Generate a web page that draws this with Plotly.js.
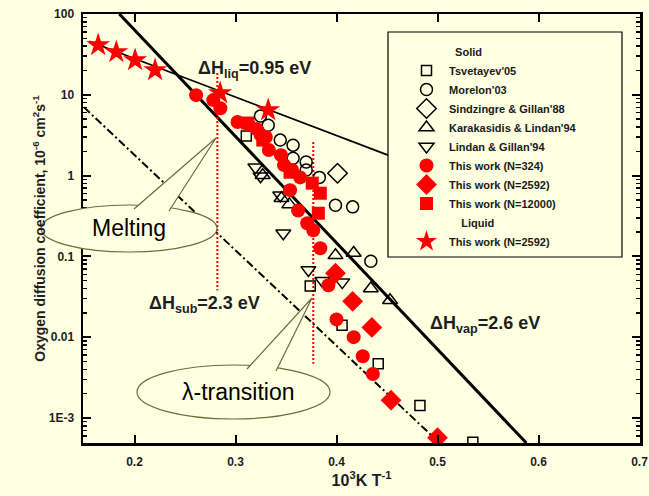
<!DOCTYPE html>
<html><head><meta charset="utf-8">
<script src="https://cdn.plot.ly/plotly-3.0.1.min.js"></script>
<style>html,body{margin:0;padding:0;background:#FFFFE2;} #chart{width:649px;height:496px;}</style>
</head><body><div id="chart"></div>
<script>
// ---- data ----
const tsvX = [0.3107, 0.374, 0.4055, 0.4413, 0.4826, 0.535];
const tsvY = [3.08, 0.043, 0.014, 0.0047, 0.00143, 0.0005];
const morX = [0.3247, 0.3324, 0.3443, 0.357, 0.357, 0.370, 0.370, 0.383, 0.399, 0.416, 0.434];
const morY = [5.45, 4.2, 2.75, 2.38, 1.64, 1.47, 1.17, 0.95, 0.43, 0.41, 0.087];
const sinX = [0.401];
const sinY = [1.07];
const karX = [0.3269, 0.3455, 0.3533, 0.399, 0.417, 0.434, 0.453];
const karY = [1.01, 0.525, 0.44, 0.103, 0.11, 0.040, 0.0286];
const linX = [0.3197, 0.3248, 0.3443, 0.3473, 0.3722, 0.386, 0.4057];
const linY = [1.27, 0.98, 0.57, 0.193, 0.068, 0.050, 0.048];
const n324X = [0.261, 0.278, 0.285, 0.302, 0.313, 0.321, 0.325, 0.330, 0.333, 0.345, 0.348, 0.356, 0.364, 0.354, 0.362, 0.371, 0.377, 0.384, 0.392, 0.400, 0.417, 0.426, 0.436];
const n324Y = [9.9, 8.6, 6.8, 4.6, 4.3, 3.76, 3.17, 3.0, 2.07, 1.79, 1.35, 1.17, 0.95, 0.66, 0.37, 0.257, 0.21, 0.126, 0.044, 0.0166, 0.0100, 0.0058, 0.0035];
const n2592X = [0.399, 0.416, 0.435, 0.454, 0.500];
const n2592Y = [0.062, 0.0278, 0.0132, 0.00166, 0.00057];
const n12000X = [0.312, 0.327, 0.354, 0.376, 0.384, 0.382];
const n12000Y = [4.47, 2.75, 1.1, 0.805, 0.605, 0.342];
const liqX = [0.164, 0.182, 0.2006, 0.2204, 0.2848, 0.3324];
const liqY = [41.3, 33.8, 26.9, 20.2, 10.5, 6.46];

// fitted Arrhenius lines (end points)
const vapX = [0.185, 0.588];      const vapY = [100, 0.00049];
const liqLineX = [0.155, 0.451];  const liqLineY = [46, 1.79];
const subX = [0.150, 0.502];      const subY = [7.0, 0.00049];
const meltX = [0.282, 0.282];     const meltY = [18.6, 0.038];
const lamX = [0.377, 0.377];      const lamY = [2.6, 0.0047];

// axis ticks
const xTickVals = [0.2, 0.3, 0.4, 0.5, 0.6, 0.7];
const xTickText = ['0.2', '0.3', '0.4', '0.5', '0.6', '0.7'];
const yTickVals = [0.001, 0.01, 0.1, 1, 10, 100];
const yTickText = ['1E-3', '0.01', '0.1', '1', '10', '100'];
const yMinorVals = [];
for (let e = -4; e <= 1; e++) for (let m = 2; m <= 9; m++) yMinorVals.push(m * Math.pow(10, e));

const BG = '#FFFFE2';
const FONT = 'Arial, "Liberation Sans", sans-serif';
const OLIVE = '#6b6b3c';

function line(x, y, w, dash, color) {
  return {x: x, y: y, type: 'scatter', mode: 'lines', showlegend: false, hoverinfo: 'skip',
          line: {color: color || 'black', width: w, dash: dash || 'solid'}};
}
function open(x, y, name, sym, size) {
  return {x: x, y: y, name: name, type: 'scatter', mode: 'markers',
          marker: {symbol: sym, size: size, color: 'black', line: {color: 'black', width: 1.5}}};
}
function filled(x, y, name, sym, size) {
  return {x: x, y: y, name: name, type: 'scatter', mode: 'markers',
          marker: {symbol: sym, size: size, color: '#FF0000', line: {width: 0}}};
}
function header(name) {
  return {x: [null], y: [null], name: name, type: 'scatter', mode: 'markers',
          marker: {size: 1, color: 'rgba(0,0,0,0)'}};
}

const traces = [
  line(vapX, vapY, 3),
  line(liqLineX, liqLineY, 1.8),
  line(subX, subY, 2, '8px,3px,2px,3px'),
  line(meltX, meltY, 2, '2px,2px', '#FF0000'),
  line(lamX, lamY, 2, '2px,2px', '#FF0000'),
  header('\u00a0\u00a0Solid'),
  open(tsvX, tsvY, "Tsvetayev'05", 'square-open', 10),
  open(morX, morY, "Morelon'03", 'circle-open', 12),
  open(sinX, sinY, "Sindzingre & Gillan'88", 'diamond-open', 15),
  open(karX, karY, "Karakasidis & Lindan'94", 'triangle-up-open', 13),
  open(linX, linY, "Lindan & Gillan'94", 'triangle-down-open', 13),
  filled(n324X, n324Y, 'This work (N=324)', 'circle', 14),
  filled(n2592X, n2592Y, 'This work (N=2592)', 'diamond', 16),
  filled(n12000X, n12000Y, 'This work (N=12000)', 'square', 13),
  header('\u00a0\u00a0\u00a0\u00a0Liquid'),
  filled(liqX, liqY, 'This work (N=2592)', 'star', 18)
];

// plot area in pixels: x 83..640, y 14..443
const L = 83, R = 640, T = 14, B = 443;
const px = v => (v - L) / (R - L);
const py = v => (B - v) / (B - T);

const shapes = [
  {type: 'rect', xref: 'paper', yref: 'paper', x0: px(388), x1: px(622), y0: py(257), y1: py(32),
   fillcolor: BG, line: {color: 'black', width: 1.2}, layer: 'above'},
  {type: 'circle', xref: 'paper', yref: 'paper', x0: px(41), x1: px(217), y0: py(252), y1: py(205),
   fillcolor: BG, line: {color: OLIVE, width: 1.2}, layer: 'above'},
  {type: 'path', xref: 'paper', yref: 'paper',
   path: 'M ' + px(134) + ',' + py(209) + ' L ' + px(216) + ',' + py(138) + ' L ' + px(169) + ',' + py(211),
   fillcolor: BG, line: {color: OLIVE, width: 1.2}, layer: 'above'},
  {type: 'circle', xref: 'paper', yref: 'paper', x0: px(137), x1: px(330), y0: py(419), y1: py(365),
   fillcolor: BG, line: {color: OLIVE, width: 1.2}, layer: 'above'},
  {type: 'path', xref: 'paper', yref: 'paper',
   path: 'M ' + px(247) + ',' + py(369) + ' L ' + px(312) + ',' + py(298) + ' L ' + px(276) + ',' + py(371),
   fillcolor: BG, line: {color: OLIVE, width: 1.2}, layer: 'above'}
];

const dhFont = {family: FONT, size: 18, color: '#1e1e1e', weight: 'bold'};
const annotations = [
  {xref: 'paper', yref: 'paper', x: px(128.5), y: py(228), text: 'Melting', showarrow: false,
   xanchor: 'center', yanchor: 'middle', font: {family: FONT, size: 23, color: 'black'}},
  {xref: 'paper', yref: 'paper', x: px(237.5), y: py(392), text: '\u03bb-transition', showarrow: false,
   xanchor: 'center', yanchor: 'middle', font: {family: FONT, size: 23, color: 'black'}},
  {xref: 'paper', yref: 'paper', x: px(196), y: py(56), text: '\u0394H<sub>liq</sub>=0.95 eV', showarrow: false,
   xanchor: 'left', yanchor: 'top', font: dhFont},
  {xref: 'paper', yref: 'paper', x: px(147), y: py(291), text: '\u0394H<sub>sub</sub>=2.3 eV', showarrow: false,
   xanchor: 'left', yanchor: 'top', font: dhFont},
  {xref: 'paper', yref: 'paper', x: px(428), y: py(311), text: '\u0394H<sub>vap</sub>=2.6 eV', showarrow: false,
   xanchor: 'left', yanchor: 'top', font: dhFont}
];

const tickFont = {family: FONT, size: 12, color: '#1e1e1e', weight: 'bold'};
const layout = {
  width: 649, height: 496,
  margin: {l: L, r: 649 - R, t: T, b: 496 - B, pad: 0},
  paper_bgcolor: BG, plot_bgcolor: BG,
  showlegend: true,
  legend: {x: px(404), y: py(37), xanchor: 'left', yanchor: 'top', bgcolor: 'rgba(0,0,0,0)',
           borderwidth: 0, traceorder: 'normal', itemwidth: 35, tracegroupgap: 0,
           font: {family: FONT, size: 11, color: '#1a1a1a', weight: 'bold'}},
  xaxis: {range: [0.149, 0.7005], showline: true, mirror: 'allticks', linecolor: 'black', linewidth: 2.5,
          ticks: 'inside', ticklen: 8, tickwidth: 2, tickcolor: 'black', showgrid: false, zeroline: false,
          tickmode: 'array', tickvals: xTickVals, ticktext: xTickText, tickfont: tickFont,
          ticklabelstandoff: 6, automargin: false,
          title: {text: '10<sup>3</sup>K T<sup>-1</sup>', font: {family: FONT, size: 16, color: '#1e1e1e', weight: 'bold'}, standoff: 6}},
  yaxis: {type: 'log', range: [-3.31, 2], showline: true, mirror: 'allticks', linecolor: 'black', linewidth: 2.5,
          ticks: 'inside', ticklen: 8, tickwidth: 2, tickcolor: 'black', showgrid: false, zeroline: false,
          tickmode: 'array', tickvals: yTickVals, ticktext: yTickText, tickfont: tickFont,
          ticklabelstandoff: 4, automargin: false,
          minor: {tickmode: 'array', tickvals: yMinorVals, ticks: 'inside', ticklen: 4, tickwidth: 1.5, tickcolor: 'black', showgrid: false},
          title: {text: 'Oxygen diffusion coefficient, 10<sup>-6</sup> cm<sup>2</sup>s<sup>-1</sup>', font: {family: FONT, size: 14, color: '#1e1e1e', weight: 'bold'}, standoff: 0}},
  shapes: shapes,
  annotations: annotations
};

Plotly.newPlot('chart', traces, layout, {displayModeBar: false, staticPlot: true});
</script></body></html>
